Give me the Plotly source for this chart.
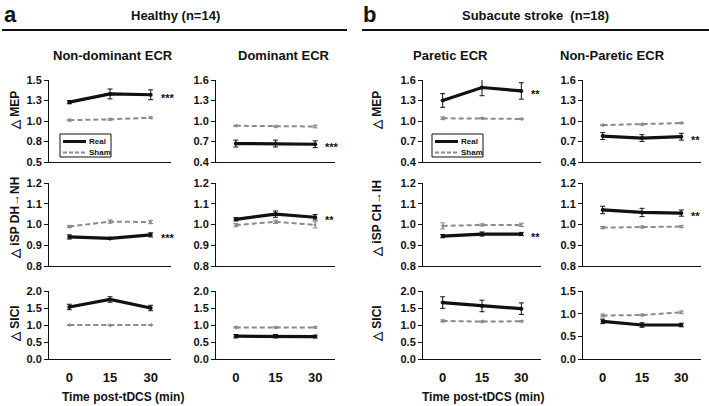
import plotly.graph_objects as go

# ---------------- data ----------------
time_labels = ["0", "15", "30"]

# Panel a: Healthy (n=14)
nd_mep_real = [1.23, 1.33, 1.32]
nd_mep_real_err = [0.02, 0.06, 0.06]
nd_mep_sham = [1.01, 1.02, 1.04]
nd_mep_sham_err = [0.01, 0.01, 0.01]

d_mep_real = [0.67, 0.67, 0.66]
d_mep_real_err = [0.05, 0.05, 0.05]
d_mep_sham = [0.93, 0.92, 0.92]
d_mep_sham_err = [0.01, 0.01, 0.02]

nd_isp_real = [0.940, 0.933, 0.950]
nd_isp_real_err = [0.010, 0.005, 0.010]
nd_isp_sham = [0.990, 1.014, 1.012]
nd_isp_sham_err = [0.005, 0.008, 0.008]

d_isp_real = [1.025, 1.050, 1.035]
d_isp_real_err = [0.008, 0.015, 0.013]
d_isp_sham = [0.997, 1.013, 0.998]
d_isp_sham_err = [0.008, 0.008, 0.015]

nd_sici_real = [1.53, 1.75, 1.50]
nd_sici_real_err = [0.08, 0.08, 0.08]
nd_sici_sham = [1.00, 0.99, 1.00]
nd_sici_sham_err = [0.01, 0.01, 0.01]

d_sici_real = [0.67, 0.67, 0.66]
d_sici_real_err = [0.05, 0.05, 0.04]
d_sici_sham = [0.93, 0.93, 0.93]
d_sici_sham_err = [0.02, 0.02, 0.02]

# Panel b: Subacute stroke (n=18)
p_mep_real = [1.30, 1.49, 1.44]
p_mep_real_err = [0.10, 0.12, 0.12]
p_mep_sham = [1.04, 1.04, 1.03]
p_mep_sham_err = [0.02, 0.01, 0.01]

np_mep_real = [0.78, 0.75, 0.77]
np_mep_real_err = [0.05, 0.05, 0.05]
np_mep_sham = [0.94, 0.95, 0.97]
np_mep_sham_err = [0.01, 0.01, 0.01]

p_isp_real = [0.944, 0.954, 0.954]
p_isp_real_err = [0.008, 0.010, 0.008]
p_isp_sham = [0.993, 0.998, 0.998]
p_isp_sham_err = [0.015, 0.005, 0.008]

np_isp_real = [1.070, 1.058, 1.055]
np_isp_real_err = [0.018, 0.020, 0.015]
np_isp_sham = [0.985, 0.988, 0.990]
np_isp_sham_err = [0.005, 0.005, 0.005]

p_sici_real = [1.66, 1.56, 1.48]
p_sici_real_err = [0.17, 0.17, 0.17]
p_sici_sham = [1.12, 1.10, 1.11]
p_sici_sham_err = [0.03, 0.02, 0.02]

np_sici_real = [0.83, 0.75, 0.75]
np_sici_real_err = [0.05, 0.05, 0.04]
np_sici_sham = [0.96, 0.97, 1.03]
np_sici_sham_err = [0.03, 0.02, 0.03]

# significance marks (row, col): text
sig_marks = {(0, 0): "***", (0, 1): "***", (1, 0): "***", (1, 1): "**",
             (0, 2): "**", (0, 3): "**", (1, 2): "**", (1, 3): "**"}

series_names = ["Real", "Sham"]
col_titles = ["Non-dominant ECR", "Dominant ECR", "Paretic ECR", "Non-Paretic ECR"]
row_titles_a = ["△ MEP", "△ iSP DH→NH", "△ SICI"]
row_titles_b = ["△ MEP", "△ iSP CH→IH", "△ SICI"]

# y-axis ticks
mep_nd_ticks = [0.5, 0.75, 1.0, 1.25, 1.5]
mep_nd_ticktext = ["0.5", "0.8", "1.0", "1.3", "1.5"]
mep_ticks = [0.4, 0.7, 1.0, 1.3, 1.6]
isp_ticks = [0.8, 0.9, 1.0, 1.1, 1.2]
sici_ticks = [0.0, 0.5, 1.0, 1.5, 2.0]
sici_np_ticks = [0.0, 0.5, 1.0, 1.5]

grid = [
    [(nd_mep_real, nd_mep_real_err, nd_mep_sham, nd_mep_sham_err),
     (d_mep_real, d_mep_real_err, d_mep_sham, d_mep_sham_err),
     (p_mep_real, p_mep_real_err, p_mep_sham, p_mep_sham_err),
     (np_mep_real, np_mep_real_err, np_mep_sham, np_mep_sham_err)],
    [(nd_isp_real, nd_isp_real_err, nd_isp_sham, nd_isp_sham_err),
     (d_isp_real, d_isp_real_err, d_isp_sham, d_isp_sham_err),
     (p_isp_real, p_isp_real_err, p_isp_sham, p_isp_sham_err),
     (np_isp_real, np_isp_real_err, np_isp_sham, np_isp_sham_err)],
    [(nd_sici_real, nd_sici_real_err, nd_sici_sham, nd_sici_sham_err),
     (d_sici_real, d_sici_real_err, d_sici_sham, d_sici_sham_err),
     (p_sici_real, p_sici_real_err, p_sici_sham, p_sici_sham_err),
     (np_sici_real, np_sici_real_err, np_sici_sham, np_sici_sham_err)],
]

yticks = [
    [(mep_nd_ticks, mep_nd_ticktext), (mep_ticks, None), (mep_ticks, None), (mep_ticks, None)],
    [(isp_ticks, None)] * 4,
    [(sici_ticks, None), (sici_ticks, None), (sici_ticks, None), (sici_np_ticks, None)],
]

# ---------------- layout geometry ----------------
W, H = 709, 406
col_px = [(49, 171), (216, 335), (423, 541), (583, 701)]
row_px = [(80, 162), (183, 266), (291, 359)]


def fx(p):
    return p / W


def fy(p):
    return 1 - p / H


FONT = "Liberation Sans, Arial, sans-serif"
BLACK = "#111111"
GRAY = "#8a8a8a"
SHAM_DASH = "5px,3px"

fig = go.Figure()
layout = dict(
    width=W, height=H,
    margin=dict(l=0, r=0, t=0, b=0, pad=0, autoexpand=False),
    paper_bgcolor="white", plot_bgcolor="white",
    font=dict(family=FONT, color=BLACK),
    showlegend=False,
)
xvals = list(range(len(time_labels)))
annotations = []
shapes = []

for r in range(3):
    for c in range(4):
        n = r * 4 + c + 1
        xa = "x" if n == 1 else f"x{n}"
        ya = "y" if n == 1 else f"y{n}"
        real, real_err, sham, sham_err = grid[r][c]
        common = dict(xaxis=xa, yaxis=ya, mode="lines+markers", showlegend=False)
        fig.add_trace(go.Scatter(
            x=xvals, y=sham, name=series_names[1],
            line=dict(color=GRAY, width=2, dash=SHAM_DASH),
            marker=dict(color=GRAY, size=4, symbol="triangle-left"),
            error_y=dict(type="data", array=sham_err, color=GRAY, thickness=1, width=2.5),
            **common))
        fig.add_trace(go.Scatter(
            x=xvals, y=real, name=series_names[0],
            line=dict(color=BLACK, width=3.2),
            marker=dict(color=BLACK, size=4),
            error_y=dict(type="data", array=real_err, color=BLACK, thickness=1, width=2.5),
            **common))

        tv, tt = yticks[r][c]
        yax = dict(
            domain=[fy(row_px[r][1]), fy(row_px[r][0])],
            range=[tv[0], tv[-1]], tickvals=tv,
            showline=True, linecolor=BLACK, linewidth=1,
            ticks="outside", ticklen=4, tickcolor=BLACK, tickwidth=1,
            showgrid=False, zeroline=False, anchor=xa, automargin=False,
            tickfont=dict(family=FONT, size=11, color=BLACK, weight="bold"),
        )
        if tt is not None:
            yax["ticktext"] = tt
        else:
            yax["tickformat"] = ".1f"
        xax = dict(
            domain=[fx(col_px[c][0]), fx(col_px[c][1])],
            range=[-0.5, len(time_labels) - 0.5],
            tickvals=xvals, ticktext=time_labels,
            showticklabels=(r == 2), ticks="", ticklabelstandoff=6,
            showline=True, linecolor=BLACK, linewidth=1,
            showgrid=False, zeroline=False, anchor=ya, automargin=False,
            tickfont=dict(family=FONT, size=13, color=BLACK, weight="bold"),
        )
        layout["xaxis" if n == 1 else f"xaxis{n}"] = xax
        layout["yaxis" if n == 1 else f"yaxis{n}"] = yax

        if (r, c) in sig_marks:
            annotations.append(dict(
                xref=xa, yref=ya, x=xvals[-1], y=real[-1],
                text=sig_marks[(r, c)], showarrow=False,
                xanchor="left", yanchor="middle", xshift=8, yshift=-3,
                font=dict(family=FONT, size=11, color=BLACK, weight="bold")))


def add_text(text, x, y, size, **kw):
    annotations.append(dict(
        xref="paper", yref="paper", x=fx(x), y=fy(y), text=text,
        showarrow=False, xanchor=kw.pop("xanchor", "center"),
        yanchor=kw.pop("yanchor", "middle"),
        font=dict(family=FONT, size=size, color=BLACK, weight="bold"), **kw))


# manual legend boxes (row 1 of columns 1 and 3)
for bx in (60, 432):
    shapes.append(dict(type="rect", xref="paper", yref="paper",
                       x0=fx(bx), x1=fx(bx + 51), y0=fy(157), y1=fy(134),
                       line=dict(color=BLACK, width=1), fillcolor="white"))
    shapes.append(dict(type="line", xref="paper", yref="paper",
                       x0=fx(bx + 3), x1=fx(bx + 26), y0=fy(141.5), y1=fy(141.5),
                       line=dict(color=BLACK, width=3)))
    shapes.append(dict(type="line", xref="paper", yref="paper",
                       x0=fx(bx + 3), x1=fx(bx + 26), y0=fy(152.5), y1=fy(152.5),
                       line=dict(color=GRAY, width=2, dash="4px,2px")))
    add_text(series_names[0], bx + 27, 141.5, 8, xanchor="left")
    add_text(series_names[1], bx + 27, 152.5, 8, xanchor="left")

# headers
add_text("a", 10, 0, 22, yanchor="top")
add_text("b", 369, 0, 22, yanchor="top")
add_text("Healthy (n=14)", 175, 15, 13)
add_text("Subacute stroke  (n=18)", 535, 15, 13)
col_title_x = [113, 284, 450, 612]
for t, x in zip(col_titles, col_title_x):
    add_text(t, x, 55, 13)
row_title_y = [110, 218, 323]
for t, y in zip(row_titles_a, row_title_y):
    add_text(t, 15, y, 12, textangle=-90)
for t, y in zip(row_titles_b, row_title_y):
    add_text(t, 377, y, 12, textangle=-90)
add_text("Time post-tDCS (min)", 123, 397, 12)
add_text("Time post-tDCS (min)", 483, 397, 12)

shapes += [
    dict(type="line", xref="paper", yref="paper", x0=fx(2), x1=fx(347), y0=fy(30), y1=fy(30),
         line=dict(color=BLACK, width=2)),
    dict(type="line", xref="paper", yref="paper", x0=fx(362), x1=fx(709), y0=fy(30), y1=fy(30),
         line=dict(color=BLACK, width=2)),
]
layout["annotations"] = annotations
layout["shapes"] = shapes

fig.update_layout(**layout)
fig.write_html(
    "out.html",
    config={"displayModeBar": False},
    post_script="document.body.style.margin='0px';document.body.style.overflow='hidden';",
)
